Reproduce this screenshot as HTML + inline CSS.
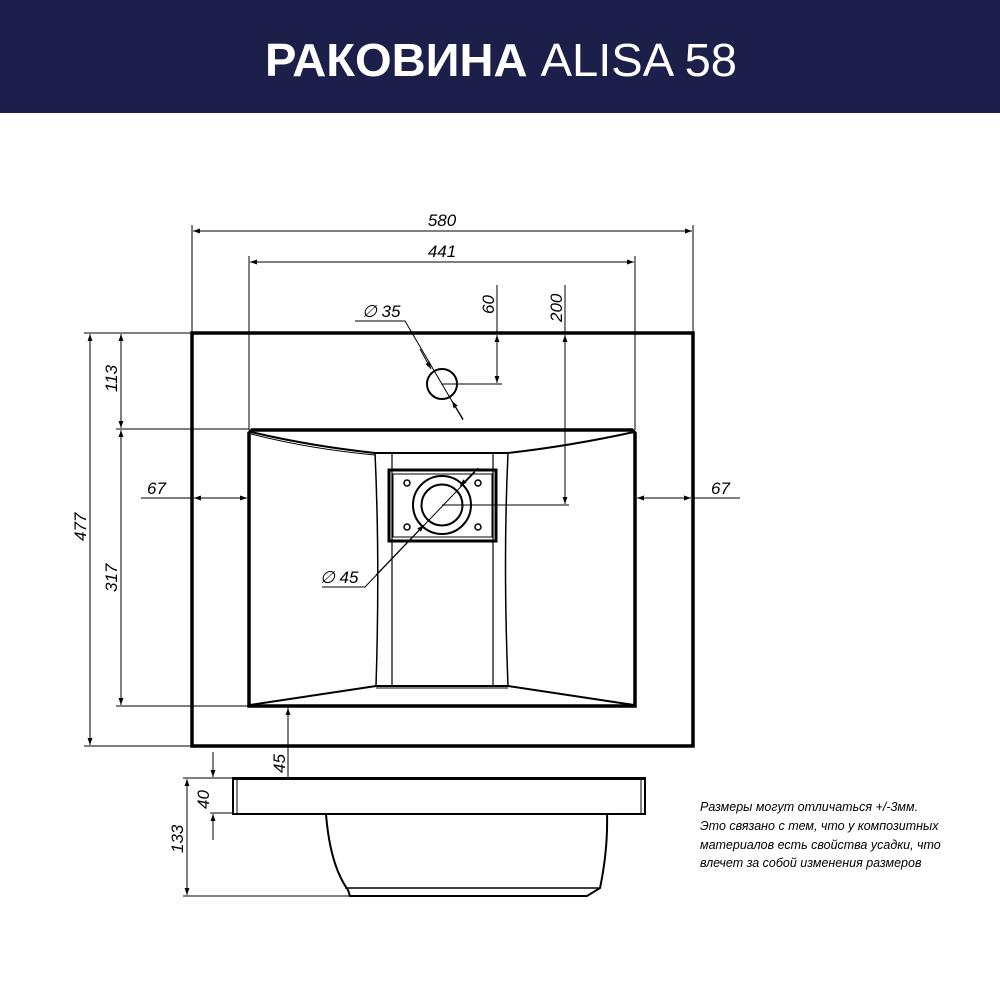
<!DOCTYPE html>
<html><head><meta charset="utf-8"><style>
html,body{margin:0;padding:0;background:#fff;}
svg{display:block}
text{font-family:"Liberation Sans",sans-serif;}
</style></head><body>
<svg width="1000" height="1000" viewBox="0 0 1000 1000" xmlns="http://www.w3.org/2000/svg">
<defs>
<marker id="a" viewBox="0 0 10 10" refX="10" refY="5" markerWidth="12" markerHeight="7" orient="auto-start-reverse" markerUnits="userSpaceOnUse"><path d="M0,1.5 L10,5 L0,8.5 Z" fill="#000"/></marker>
</defs>
<rect x="0" y="0" width="1000" height="113" fill="#1c1f4a"/>
<text x="501" y="76" text-anchor="middle" fill="#fff" font-size="46" textLength="472" lengthAdjust="spacingAndGlyphs"><tspan font-weight="bold">РАКОВИНА</tspan> ALISA 58</text>

<g fill="none" stroke="#000">
<rect x="192" y="333" width="501" height="413" stroke-width="3.5"/>
<path d="M252,430 L632,430 L635,433 L635,706 L249,706 L249,433 Z" stroke-width="3.5"/>
<path d="M251,432 Q310,446 375,453 L508,453 Q570,446 634,432" stroke-width="2"/>
<path d="M251,434 Q310,449 375,455" stroke-width="1"/>
<path d="M375,453 Q380,560 376,686" stroke-width="1.5"/>
<path d="M508,453 Q503,560 508,686" stroke-width="1.5"/>
<line x1="392" y1="453" x2="392" y2="686" stroke-width="1.2"/>
<line x1="493" y1="453" x2="493" y2="686" stroke-width="1.2"/>
<path d="M250,705 L376,686 L508,686 L634,705" stroke-width="2"/>
<line x1="376" y1="688" x2="508" y2="688" stroke-width="1"/>
<rect x="389" y="470" width="107" height="71" stroke-width="3"/>
<rect x="393" y="474" width="99" height="63" stroke-width="1"/>
<circle cx="442" cy="505" r="29" stroke-width="2"/>
<circle cx="442" cy="505" r="20.5" stroke-width="2"/>
<circle cx="407" cy="483" r="3" stroke-width="1.5"/>
<circle cx="478" cy="483" r="3" stroke-width="1.5"/>
<circle cx="407" cy="527" r="3" stroke-width="1.5"/>
<circle cx="478" cy="527" r="3" stroke-width="1.5"/>
<circle cx="442" cy="384" r="15" stroke-width="2"/>
</g>

<g fill="none" stroke="#000" stroke-width="1">
<line x1="192" y1="225" x2="192" y2="333"/>
<line x1="693" y1="225" x2="693" y2="333"/>
<line x1="193" y1="231" x2="692" y2="231" marker-start="url(#a)" marker-end="url(#a)"/>
<line x1="249" y1="256" x2="249" y2="430"/>
<line x1="635" y1="256" x2="635" y2="430"/>
<line x1="250" y1="262" x2="634" y2="262" marker-start="url(#a)" marker-end="url(#a)"/>
<line x1="84" y1="333" x2="192" y2="333"/>
<line x1="116" y1="429" x2="249" y2="429"/>
<line x1="116" y1="706" x2="249" y2="706"/>
<line x1="84" y1="746" x2="192" y2="746"/>
<line x1="90" y1="334" x2="90" y2="745" marker-start="url(#a)" marker-end="url(#a)"/>
<line x1="121" y1="334" x2="121" y2="428" marker-start="url(#a)" marker-end="url(#a)"/>
<line x1="121" y1="430" x2="121" y2="705" marker-start="url(#a)" marker-end="url(#a)"/>
<line x1="141" y1="498" x2="192" y2="498"/>
<line x1="194" y1="498" x2="247" y2="498" marker-start="url(#a)" marker-end="url(#a)"/>
<line x1="637" y1="498" x2="691" y2="498" marker-start="url(#a)" marker-end="url(#a)"/>
<line x1="693" y1="498" x2="740" y2="498"/>
<line x1="497" y1="285" x2="497" y2="333"/>
<line x1="497" y1="335" x2="497" y2="383" marker-start="url(#a)" marker-end="url(#a)"/>
<line x1="442" y1="384" x2="502" y2="384"/>
<line x1="565" y1="285" x2="565" y2="333"/>
<line x1="565" y1="335" x2="565" y2="504" marker-start="url(#a)" marker-end="url(#a)"/>
<line x1="442" y1="505" x2="569" y2="505"/>
<polyline points="355,321 405,321 463,420"/>
<line x1="420" y1="349" x2="431" y2="369" marker-end="url(#a)"/>
<line x1="463" y1="419" x2="452" y2="401" marker-end="url(#a)"/>
<polyline points="322,587 365,587 475,472"/>
<line x1="376" y1="575" x2="424" y2="525" marker-end="url(#a)"/>
<line x1="478" y1="468" x2="460" y2="486" marker-end="url(#a)"/>
<line x1="288" y1="708" x2="288" y2="777"/>
<line x1="288" y1="725" x2="288" y2="708" marker-end="url(#a)"/>
<line x1="210" y1="813" x2="232" y2="813"/>
<line x1="183" y1="778" x2="232" y2="778"/>
<line x1="183" y1="896" x2="350" y2="896"/>
<line x1="213" y1="752" x2="213" y2="777" marker-end="url(#a)"/>
<line x1="213" y1="840" x2="213" y2="814" marker-end="url(#a)"/>
<line x1="187" y1="779" x2="187" y2="895" marker-start="url(#a)" marker-end="url(#a)"/>
</g>

<g fill="none" stroke="#000">
<rect x="233" y="778" width="412" height="36" stroke-width="2"/>
<line x1="237" y1="778" x2="237" y2="814" stroke-width="1"/>
<line x1="641" y1="778" x2="641" y2="814" stroke-width="1"/>
<line x1="233" y1="779" x2="645" y2="779" stroke-width="2"/>
<path d="M326,814 Q330,865 348,890 L350,896 L587,896 L600,888 Q608,850 607,814" stroke-width="2"/>
<line x1="345" y1="888" x2="600" y2="888" stroke-width="1.5"/>
</g>

<g font-style="italic" font-size="17" fill="#000">
<text x="442" y="226" text-anchor="middle">580</text>
<text x="442" y="257" text-anchor="middle">441</text>
<text x="147" y="494">67</text>
<text x="711" y="494">67</text>
<text transform="translate(117,392) rotate(-90)">113</text>
<text transform="translate(117,592) rotate(-90)">317</text>
<text transform="translate(86,541) rotate(-90)">477</text>
<text transform="translate(494,314) rotate(-90)">60</text>
<text transform="translate(562,322) rotate(-90)">200</text>
<text transform="translate(285,773) rotate(-90)">45</text>
<text transform="translate(209,809) rotate(-90)">40</text>
<text transform="translate(183,853) rotate(-90)">133</text>
<text x="362" y="317">∅ 35</text>
<text x="320" y="583">∅ 45</text>
</g>
<g font-style="italic" font-size="12.5" fill="#000">
<text x="700" y="811">Размеры могут отличаться +/-3мм.</text>
<text x="700" y="830">Это связано с тем, что у композитных</text>
<text x="700" y="849">материалов есть свойства усадки, что</text>
<text x="700" y="867">влечет за собой изменения размеров</text>
</g>
</svg>
</body></html>
